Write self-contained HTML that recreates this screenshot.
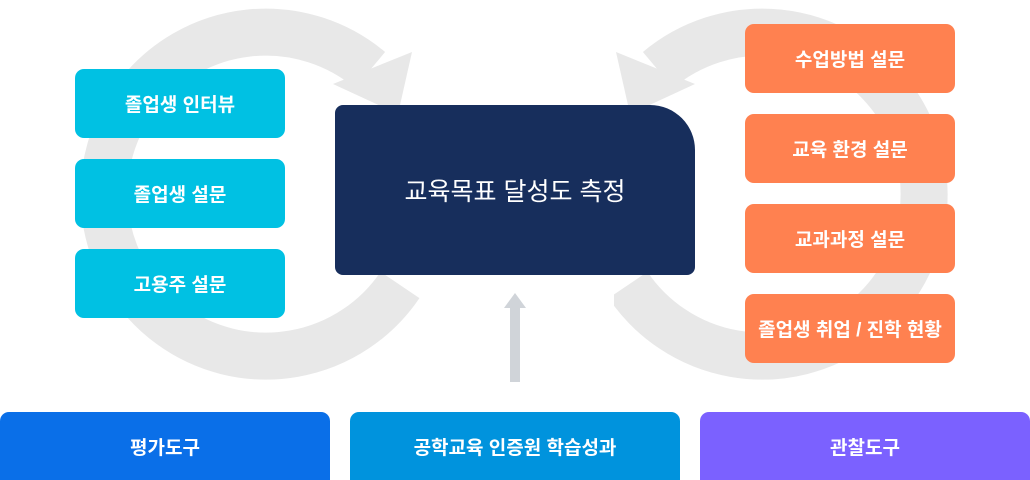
<!DOCTYPE html>
<html><head><meta charset="utf-8"><style>
body{margin:0;width:1030px;height:480px;position:relative;background:#fff;overflow:hidden;font-family:"Liberation Sans","Noto Sans CJK KR",sans-serif;}
.b{position:absolute;color:#fff;display:flex;align-items:center;justify-content:center;font-size:19px;font-weight:bold;border-radius:9px;letter-spacing:0;}
.c{background:#00c1e3;left:75px;width:210px;height:69px;}
.o{background:#ff8150;left:745px;width:210px;height:69px;}
.f{top:412px;height:68px;width:330px;border-radius:9px 9px 0 0;}
</style></head><body>
<svg width="1030" height="480" style="position:absolute;left:0;top:0">
<defs><clipPath id="cp"><rect x="0" y="0" width="1030" height="293"/><rect x="0" y="293" width="420" height="200"/></clipPath>
<clipPath id="cp2"><rect x="0" y="0" width="1030" height="293"/><rect x="0" y="293" width="414" height="200"/></clipPath></defs>
<g clip-path="url(#cp)" fill="#e8e8e8">
<path d="M370,70 A162,162 0 1 0 400,285" fill="none" stroke="#e8e8e8" stroke-width="47"/>
<polygon points="333,84 412,52 398,114"/>
</g>
<g transform="translate(1028,0) scale(-1,1)" clip-path="url(#cp2)" fill="#e8e8e8">
<path d="M370,70 A162,162 0 1 0 400,285" fill="none" stroke="#e8e8e8" stroke-width="47"/>
<polygon points="333,84 412,52 398,114"/>
</g>
<rect x="510" y="306" width="10" height="76" fill="#d0d4d9"/>
<polygon points="515,293 504,308 526,308" fill="#d0d4d9"/>
</svg>
<div class="b c" style="top:69px">졸업생 인터뷰</div>
<div class="b c" style="top:159px">졸업생 설문</div>
<div class="b c" style="top:249px">고용주 설문</div>
<div class="b" style="left:335px;top:105px;width:360px;height:170px;background:#172e5c;border-radius:8px 45px 8px 8px;font-size:25px;font-weight:normal;">교육목표 달성도 측정</div>
<div class="b o" style="top:24px">수업방법 설문</div>
<div class="b o" style="top:114px">교육 환경 설문</div>
<div class="b o" style="top:204px">교과과정 설문</div>
<div class="b o" style="top:294px">졸업생 취업 / 진학 현황</div>
<div class="b f" style="left:0;background:#0a6fe8">평가도구</div>
<div class="b f" style="left:350px;background:#0093dd">공학교육 인증원 학습성과</div>
<div class="b f" style="left:700px;background:#7b61ff">관찰도구</div>
</body></html>
